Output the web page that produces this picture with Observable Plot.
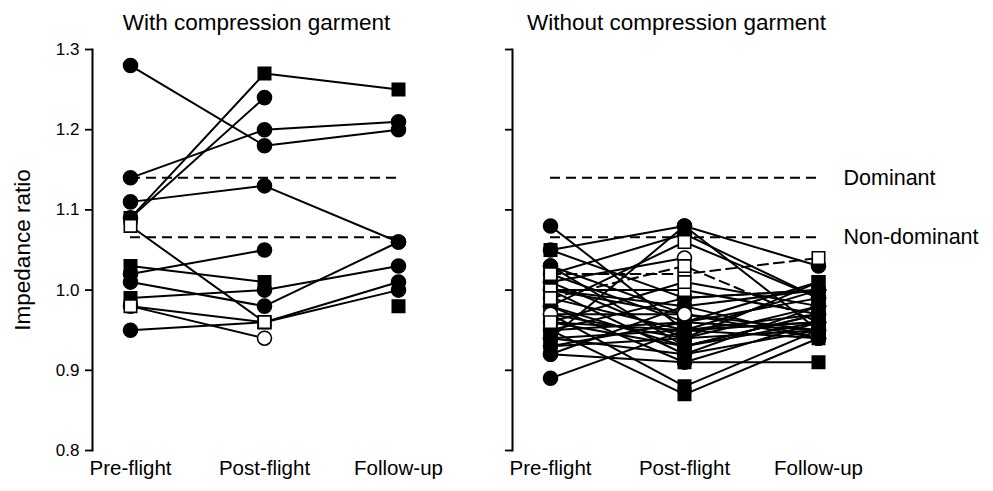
<!DOCTYPE html>
<html><head><meta charset="utf-8">
<script src="https://cdn.jsdelivr.net/npm/d3@7"></script>
<script src="https://cdn.jsdelivr.net/npm/@observablehq/plot@0.6"></script>
<style>
body{margin:0;background:#fff;}
#wrap{position:relative;width:993px;height:491px;}
#wrap svg{position:absolute;top:0;max-width:none;overflow:visible;}
</style></head><body><div id="wrap"></div>
<script>
// ---- data ----
const times = ["Pre-flight", "Post-flight", "Follow-up"];
const yTicks = [0.8, 0.9, 1.0, 1.1, 1.2, 1.3];
const refValues = [1.14, 1.066];
const refLabels = ["Dominant", "Non-dominant"];
const panelTitles = ["With compression garment", "Without compression garment"];

// With compression garment: value per time (null = missing)
const leftValues = [
  [1.28, 1.18, 1.20],
  [1.14, 1.20, 1.21],
  [1.11, 1.13, 1.06],
  [1.09, 1.27, 1.25],
  [1.09, 1.24, null],
  [1.08, 0.96, 1.01],
  [1.03, 1.01, null],
  [1.02, 1.05, null],
  [1.01, 0.98, 1.06],
  [0.99, 1.00, 1.03],
  [0.98, 0.94, null],
  [0.98, 0.96, 1.00],
  [0.95, 0.96, null],
  [null, null, 0.98]
];
// c = filled circle, s = filled square, oc = open circle, os = open square
const leftSymbols = [
  ["c", "c", "c"], ["c", "c", "c"], ["c", "c", "c"], ["s", "s", "s"],
  ["c", "c", "c"], ["os", "os", "c"], ["s", "s", "s"], ["c", "c", "c"],
  ["c", "c", "c"], ["s", "c", "c"], ["os", "oc", "c"], ["c", "os", "c"],
  ["c", "os", "c"], ["s", "s", "s"]
];
const leftDashed = [];

// Without compression garment
const rightValues = [
  [1.08, 0.95, 0.97], [1.05, 0.99, 1.00], [1.05, 1.08, 0.95], [1.03, 0.93, 0.96],
  [1.02, 1.07, 0.99], [1.02, 1.02, 1.04], [1.02, 0.96, 1.01], [1.01, 0.94, 0.98],
  [1.01, 1.04, null], [1.00, 0.92, 0.95], [1.00, 1.00, 0.97], [1.00, 0.97, 0.94],
  [0.99, 1.03, 0.96], [0.99, 0.95, 1.00], [0.98, 0.91, 0.96], [0.98, 1.06, 0.99],
  [0.97, 0.97, null], [0.97, 0.94, 1.01], [0.97, 0.88, 0.95], [0.96, 1.01, 0.98],
  [0.96, 0.95, 0.94], [0.96, 0.93, 0.97], [0.95, 0.99, 1.00], [0.95, 0.96, 0.95],
  [0.95, 0.87, 0.94], [0.94, 1.08, 1.03], [0.94, 0.95, 0.96], [0.94, 0.92, 0.98],
  [0.93, 0.96, 0.99], [0.93, 0.94, 0.95], [0.92, 0.98, 0.94], [0.92, 0.91, 0.91],
  [0.89, 0.95, 0.96], [1.03, 0.97, 0.95], [0.98, 0.93, 0.97], [1.00, 0.98, 1.00]
];
const rightSymbols = [
  ["c","c","c"], ["c","c","c"], ["s","c","s"], ["c","c","c"],
  ["c","c","c"], ["os","os","os"], ["s","s","s"], ["c","c","c"],
  ["c","oc","c"], ["s","s","s"], ["os","os","c"], ["c","c","c"],
  ["os","os","c"], ["c","c","c"], ["c","c","c"], ["c","os","c"],
  ["oc","oc","c"], ["s","s","s"], ["c","s","c"], ["os","os","c"],
  ["c","c","c"], ["s","s","s"], ["c","c","c"], ["s","s","s"],
  ["s","s","s"], ["c","c","c"], ["s","s","s"], ["c","c","c"],
  ["s","s","s"], ["c","c","c"], ["c","c","c"], ["c","s","s"],
  ["c","c","c"], ["c","c","c"], ["s","s","s"], ["c","c","c"]
];
const rightDashed = [5, 12];

// ---- build ----
function rows(values, symbols, dashed) {
  const out = [];
  values.forEach((v, i) => v.forEach((val, t) => out.push({
    subject: i, time: times[t], value: val, sym: symbols[i][t], dashed: dashed.includes(i)
  })));
  return out;
}

const FONT = "Liberation Sans, Arial, sans-serif";

function panel({data, title, showLabels, width, marginRight, refText}) {
  const pts = data.filter(d => d.value != null);
  const dotOpts = (sym, fill) => ({
    x: "time", y: "value", r: 7, fill, stroke: "black", strokeWidth: 1.6,
    symbol: sym.includes("s") ? "square" : "circle",
    filter: d => d.value != null && d.sym === sym
  });
  const marks = [
    Plot.frame({anchor: "left", stroke: "black", strokeWidth: 2}),
    Plot.axisY({ticks: yTicks, tickSize: 7, tickPadding: 6, tickFormat: showLabels ? d3.format(".1f") : () => "",
      fontSize: 17, label: null, strokeWidth: 1.8}),
    Plot.axisX({tickSize: 0, tickPadding: 10, fontSize: 20.5, label: null}),
    Plot.ruleY(refValues, {y: d => d, x1: () => times[0], x2: () => times[2], stroke: "black", strokeWidth: 2, strokeDasharray: "10,6"}),
    Plot.line(data, {x: "time", y: "value", z: "subject", filter: d => !d.dashed, stroke: "black", strokeWidth: 2}),
    Plot.line(data, {x: "time", y: "value", z: "subject", filter: d => d.dashed, stroke: "black", strokeWidth: 2, strokeDasharray: "10,6"}),
    Plot.dot(pts, dotOpts("c", "black")),
    Plot.dot(pts, dotOpts("s", "black")),
    Plot.dot(pts, dotOpts("oc", "white")),
    Plot.dot(pts, dotOpts("os", "white")),
    Plot.text([title], {frameAnchor: "top", lineAnchor: "middle", dy: -27, fontSize: 22.5, text: d => d, fill: "black"})
  ];
  if (showLabels) {
    marks.push(Plot.text(["Impedance ratio"], {frameAnchor: "left", textAnchor: "middle", lineAnchor: "middle", dx: -70, rotate: -90, fontSize: 22.5, text: d => d, fill: "black"}));
  }
  if (refText) {
    marks.push(Plot.text(refValues, {x: () => times[2], y: d => d, text: (d, i) => refLabels[i], dx: 25, textAnchor: "start", fontSize: 21.5, fill: "black"}));
  }
  return Plot.plot({
    width, height: 491,
    marginLeft: 92, marginRight, marginTop: 49, marginBottom: 41,
    style: {fontFamily: FONT, background: "transparent", color: "black", overflow: "visible"},
    x: {type: "point", domain: times, range: [130, 398], padding: 0},
    y: {domain: [0.8, 1.3], range: [450, 49]},
    marks
  });
}

const wrap = document.getElementById("wrap");
const left = panel({data: rows(leftValues, leftSymbols, leftDashed), title: panelTitles[0], showLabels: true, width: 420, marginRight: 0});
left.style.left = "0px";
const right = panel({data: rows(rightValues, rightSymbols, rightDashed), title: panelTitles[1], showLabels: false, width: 573, marginRight: 153, refText: true});
right.style.left = "420px";
wrap.appendChild(left);
wrap.appendChild(right);
</script></body></html>
